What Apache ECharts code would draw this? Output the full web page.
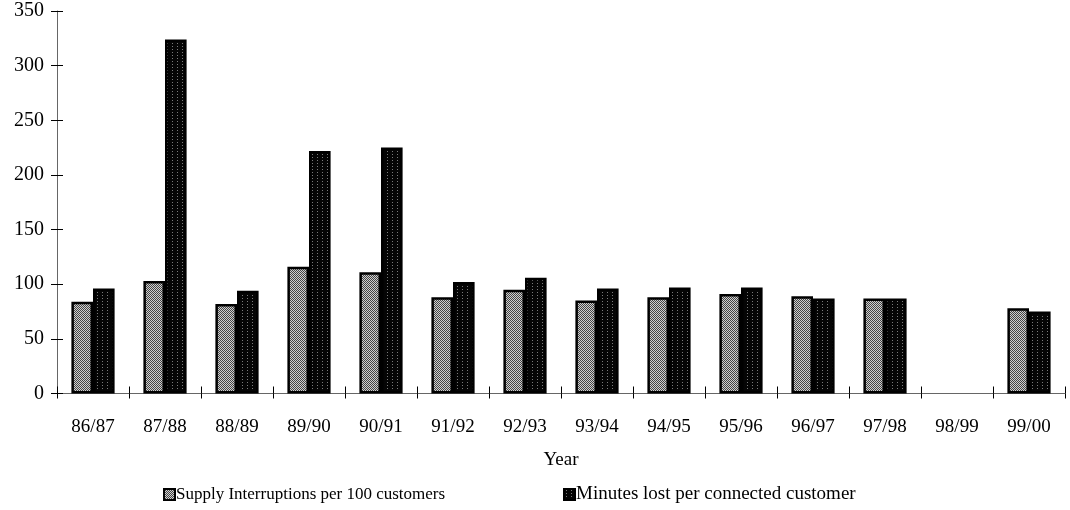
<!DOCTYPE html>
<html>
<head>
<meta charset="utf-8">
<script src="https://cdn.jsdelivr.net/npm/echarts@6/dist/echarts.min.js"></script>
<style>
  html, body { margin: 0; padding: 0; background: #fff; }
  #chart { width: 1070px; height: 510px; }
</style>
</head>
<body>
<div id="chart"></div>
<script>
// Reliability figures per financial year
const years = ['86/87', '87/88', '88/89', '89/90', '90/91', '91/92', '92/93',
               '93/94', '94/95', '95/96', '96/97', '97/98', '98/99', '99/00'];
const interruptions = [84, 103, 82, 116, 111, 88, 95, 85, 88, 91, 89, 87, null, 78];
const minutesLost = [96, 324, 94, 222, 225, 102, 106, 96, 97, 97, 87, 87, null, 75];
const yTicks = { min: 0, max: 350, interval: 50 };

const seriesNames = ['Supply Interruptions per 100 customers', 'Minutes lost per connected customer'];

// Small repeating bitmaps used as bar fills
function makePattern(w, h, bg, dots) {
  const c = document.createElement('canvas');
  c.width = w; c.height = h;
  const ctx = c.getContext('2d');
  ctx.fillStyle = bg;
  ctx.fillRect(0, 0, w, h);
  dots.forEach(d => { ctx.fillStyle = d[2]; ctx.fillRect(d[0], d[1], 1, 1); });
  return c;
}
// checkered grey
const checker = makePattern(2, 2, '#cfcfcf', [[0, 0, '#444'], [1, 1, '#444']]);
// black with columns of grey dots
const dotted = makePattern(5, 3, '#050505', [[2, 1, '#7a7a7a']]);

const font = 'Liberation Serif, Times New Roman, serif';
const axisFont = 19;

const chart = echarts.init(document.getElementById('chart'), null, { renderer: 'canvas' });
chart.setOption({
  backgroundColor: '#ffffff',
  animation: false,
  textStyle: { fontFamily: font, color: '#000' },
  grid: { left: 57, right: 5, top: 11, bottom: 116.5, containLabel: false },
  legend: [
    {
      data: [seriesNames[0]], left: 158, top: 481,
      itemWidth: 11, itemHeight: 11, itemGap: 0,
      icon: 'rect',
      textStyle: { fontFamily: font, fontSize: 17, color: '#000', padding: [0, 0, 0, -4] }
    },
    {
      data: [seriesNames[1]], left: 558, top: 480,
      itemWidth: 11, itemHeight: 11, itemGap: 0,
      icon: 'rect',
      textStyle: { fontFamily: font, fontSize: 19, color: '#000', padding: [0, 0, 0, -4] }
    }
  ],
  xAxis: [
    {
      type: 'category', data: years, position: 'bottom',
      name: 'Year', nameLocation: 'middle', nameGap: 57,
      nameTextStyle: { fontFamily: font, fontSize: axisFont, color: '#000' },
      axisLine: { show: true, lineStyle: { color: '#666', width: 1 } },
      axisTick: { show: true, inside: false, length: 5, lineStyle: { color: '#000' } },
      axisLabel: { fontFamily: font, fontSize: axisFont, color: '#000', margin: 24 },
      splitLine: { show: false }
    },
    {
      type: 'category', data: years, position: 'bottom',
      axisLine: { show: false },
      axisTick: { show: true, inside: true, length: 7, lineStyle: { color: '#000' } },
      axisLabel: { show: false },
      splitLine: { show: false }
    }
  ],
  yAxis: [
    {
      type: 'value', min: yTicks.min, max: yTicks.max, interval: yTicks.interval, position: 'left',
      axisLine: { show: true, lineStyle: { color: '#666', width: 1 } },
      axisTick: { show: true, inside: false, length: 6, lineStyle: { color: '#000' } },
      axisLabel: { fontFamily: font, fontSize: 20, color: '#000', margin: 13 },
      splitLine: { show: false }
    },
    {
      type: 'value', min: yTicks.min, max: yTicks.max, interval: yTicks.interval, position: 'left',
      axisLine: { show: false },
      axisTick: { show: true, inside: true, length: 6, lineStyle: { color: '#000' } },
      axisLabel: { show: false },
      splitLine: { show: false }
    }
  ],
  series: [
    {
      name: seriesNames[0], type: 'bar', data: interruptions,
      xAxisIndex: 0, yAxisIndex: 0,
      barGap: '0%', barCategoryGap: '40%',
      itemStyle: { color: { image: checker, repeat: 'repeat' }, borderColor: '#000', borderWidth: 2.5 }
    },
    {
      name: seriesNames[1], type: 'bar', data: minutesLost,
      xAxisIndex: 0, yAxisIndex: 0,
      barGap: '0%', barCategoryGap: '40%',
      itemStyle: { color: { image: dotted, repeat: 'repeat' }, borderColor: '#000', borderWidth: 2.5 }
    }
  ]
});
</script>
</body>
</html>
